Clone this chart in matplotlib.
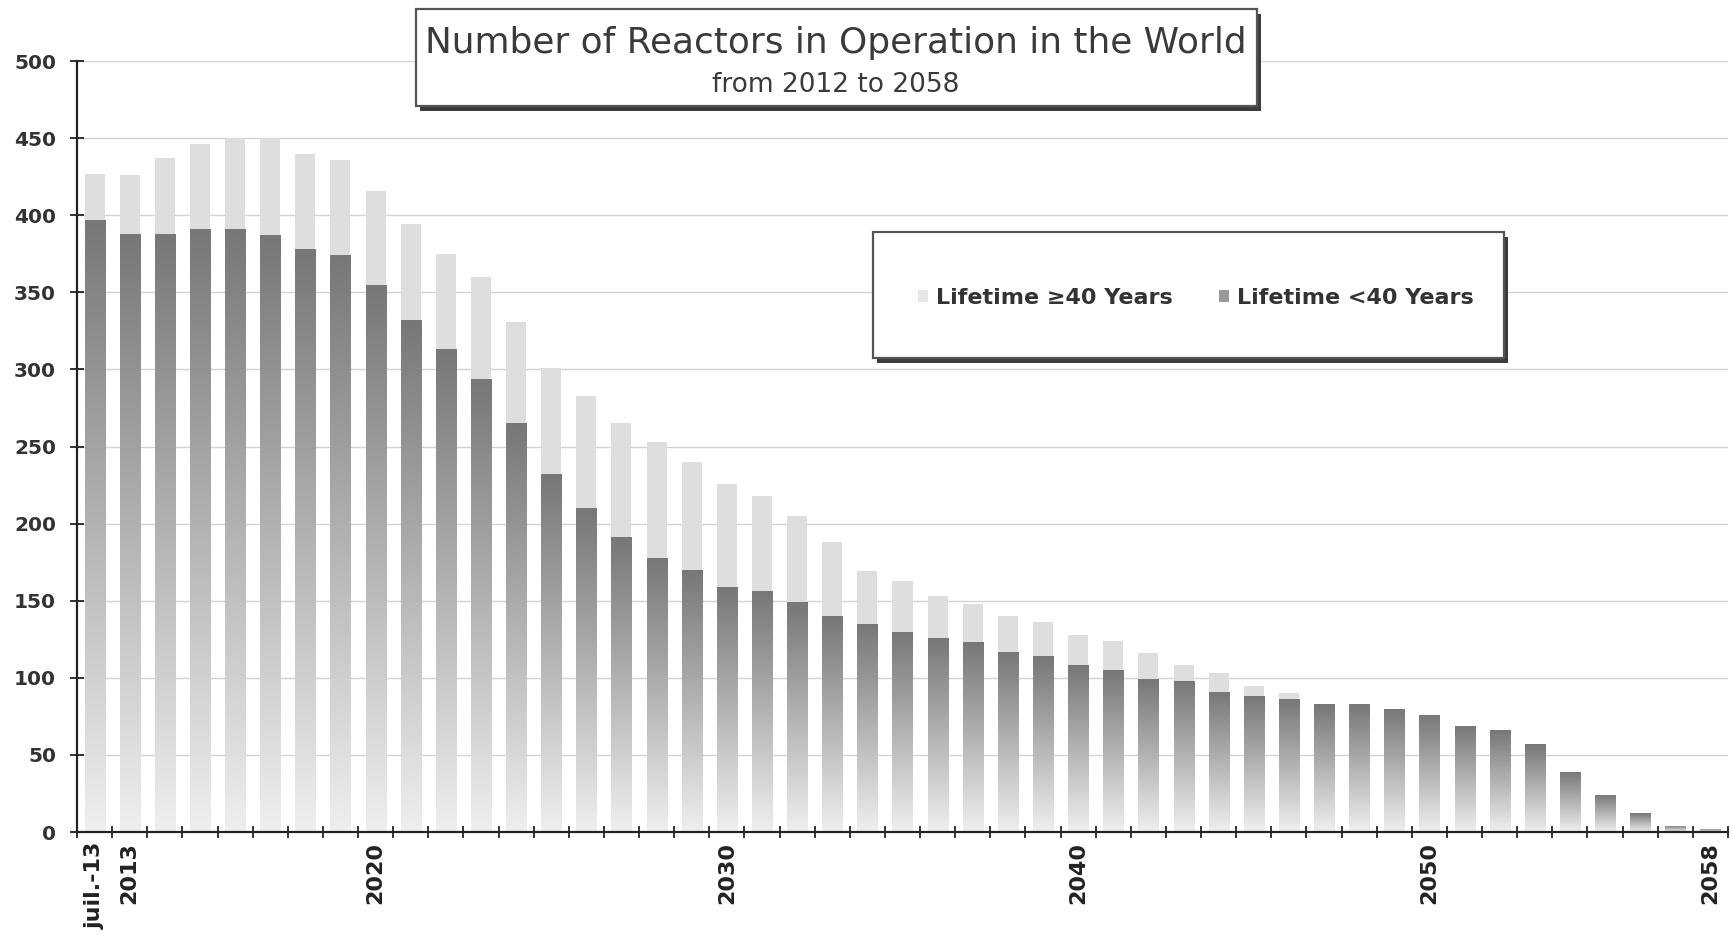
import numpy as np
import matplotlib
matplotlib.use('Agg')
import matplotlib.pyplot as plt
from matplotlib.colors import LinearSegmentedColormap
from matplotlib.patches import Rectangle, Patch

# one bar per year, first bar is the July 2013 status
years = ['juil.-13'] + [str(y) for y in range(2013, 2059)]
shownYears = ['juil.-13', '2013', '2020', '2030', '2040', '2050', '2058']

under40 = [397, 388, 388, 391, 391, 387, 378, 374, 355, 332,
           313, 294, 265, 232, 210, 191, 178, 170, 159, 156,
           149, 140, 135, 130, 126, 123, 117, 114, 108, 105,
           99, 98, 91, 88, 86, 83, 83, 80, 76, 69,
           66, 57, 39, 24, 12, 4, 2]
over40 = [30, 38, 49, 55, 59, 63, 62, 62, 61, 62,
          62, 66, 66, 69, 73, 74, 75, 70, 67, 62,
          56, 48, 34, 33, 27, 25, 23, 22, 20, 19,
          17, 10, 12, 7, 4, 0, 0, 0, 0, 0,
          0, 0, 0, 0, 0, 0, 0]

yTicks = [0, 50, 100, 150, 200, 250, 300, 350, 400, 450, 500]

titleText = 'Number of Reactors in Operation in the World'
subtitleText = 'from 2012 to 2058'
legendLabels = ['Lifetime \u226540 Years', 'Lifetime <40 Years']

W, H = 1733, 935
darkColor = '#777777'
lightColor = '#dedede'
barWidth = 0.57


def addShadowBox(fig, x0, y0, x1, y1):
    # box given in pixels from the top-left corner, with a dark drop shadow
    w, h = (x1 - x0) / W, (y1 - y0) / H
    shadow = Rectangle(((x0 + 4) / W, 1 - (y1 + 5) / H), w, h,
                       transform=fig.transFigure, fc='#3c3c3c', ec='none', zorder=2)
    box = Rectangle((x0 / W, 1 - y1 / H), w, h, transform=fig.transFigure,
                    fc='white', ec='#555555', lw=1.6, zorder=3)
    fig.add_artist(shadow)
    fig.add_artist(box)


def plotReactors():
    fig = plt.figure(figsize=(W / 100, H / 100), dpi=100)
    ax = fig.add_axes([77 / W, (H - 832) / H, 1651 / W, 771 / H])

    x = np.arange(len(years))
    fade = LinearSegmentedColormap.from_list('fade', ['#efefef', darkColor])
    gradient = np.linspace(0, 1, 256).reshape(-1, 1)

    lowBars = ax.bar(x, under40, width=barWidth, color='none', zorder=2)
    ax.bar(x, over40, bottom=under40, width=barWidth, color=lightColor,
           linewidth=0, zorder=2)

    # each <40 years bar fades from dark at its top to almost white at the base
    for bar in lowBars:
        if bar.get_height() <= 0:
            continue
        x0 = bar.get_x()
        img = ax.imshow(gradient, cmap=fade, origin='lower', aspect='auto',
                        extent=[x0, x0 + bar.get_width(), 0, bar.get_height()],
                        zorder=2)
        img.set_clip_path(bar)

    ax.set_xlim(-0.5, len(years) - 0.5)
    ax.set_ylim(0, 500)

    ax.set_yticks(yTicks)
    ax.set_yticklabels([str(v) for v in yTicks], fontsize=14.5,
                       fontweight='bold', color='#333333')
    ax.tick_params(axis='y', direction='inout', length=10, width=1.3,
                   pad=10, color='#222222')

    # tick marks sit between the bars, labels under a few selected bars
    ax.set_xticks(np.arange(len(years) + 1) - 0.5)
    ax.set_xticklabels([])
    ax.tick_params(axis='x', which='major', direction='inout', length=9,
                   width=1.3, color='#222222')
    labelPos = [years.index(y) for y in shownYears]
    ax.set_xticks(labelPos, minor=True)
    ax.set_xticklabels(shownYears, minor=True, rotation=90, fontsize=16,
                       fontweight='bold', color='#222222')
    ax.tick_params(axis='x', which='minor', length=0, pad=7)

    ax.grid(axis='y', color='#d2d2d2', linewidth=1.0)
    ax.set_axisbelow(True)
    for side in ['top', 'right']:
        ax.spines[side].set_visible(False)
    for side in ['left', 'bottom']:
        ax.spines[side].set_color('#222222')
        ax.spines[side].set_linewidth(1.6)

    # title box
    addShadowBox(fig, 416, 9, 1257, 106)
    fig.text(836 / W, 1 - 43 / H, titleText, ha='center', va='center',
             fontsize=25.8, color='#3a3a3a', zorder=5)
    fig.text(836 / W, 1 - 85 / H, subtitleText, ha='center', va='center',
             fontsize=19, color='#3a3a3a', zorder=5)

    # legend box
    addShadowBox(fig, 873, 232, 1504, 358)
    handles = [Patch(facecolor='#e6e6e6', edgecolor='none'),
               Patch(facecolor='#999999', edgecolor='none')]
    leg = fig.legend(handles, legendLabels, ncol=2, loc='center left',
                     bbox_to_anchor=(918 / W, 1 - 298 / H), frameon=False,
                     handlelength=0.45, handleheight=0.45, handletextpad=0.35,
                     columnspacing=2.1, borderpad=0, borderaxespad=0,
                     prop={'weight': 'bold', 'size': 16})
    for t in leg.get_texts():
        t.set_color('#333333')
    leg.set_zorder(5)

    fig.savefig('out.png', dpi=100, facecolor='white')


def main():
    plotReactors()


if __name__ == "__main__":
    main()
